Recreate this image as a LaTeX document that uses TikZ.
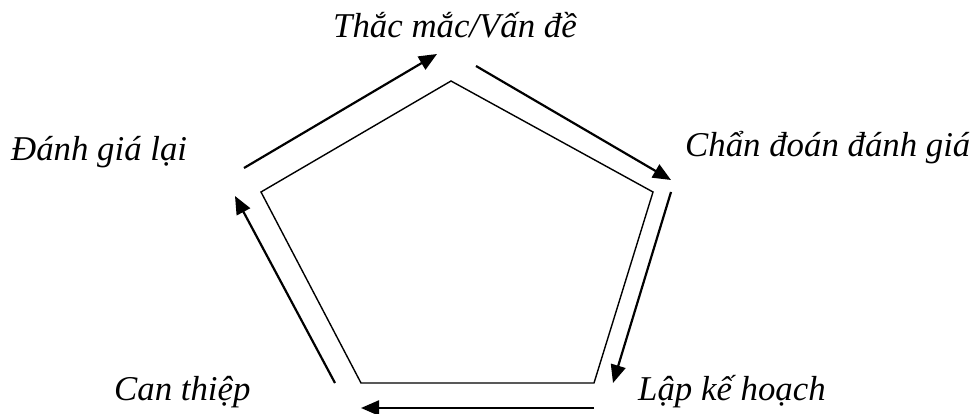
\documentclass[tikz,border=0pt]{standalone}
\usepackage{fontspec}
\setmainfont{Liberation Serif}
\usetikzlibrary{arrows.meta}
\begin{document}
\begin{tikzpicture}[x=1pt,y=1pt,
  poly/.style={line width=1.4pt,line join=miter},
  flow/.style={line width=2.2pt,-{Triangle[length=18pt,width=15pt]}},
  lbl/.style={font=\fontsize{34.8}{40}\selectfont\itshape,inner sep=0pt,anchor=base west}]
\useasboundingbox (0,0) rectangle (971,-414);
% pentagon vertices
\coordinate (pT) at (451,-81);
\coordinate (pR) at (653,-192);
\coordinate (pBR) at (594,-383);
\coordinate (pBL) at (361,-383);
\coordinate (pL) at (261,-192);
\draw[poly] (pT) -- (pR) -- (pBR) -- (pBL) -- (pL) -- cycle;
% arrow ends
\coordinate (a1s) at (244,-168); \coordinate (a1e) at (437,-54);
\coordinate (a2s) at (476,-66);  \coordinate (a2e) at (671,-180);
\coordinate (a3s) at (671,-192); \coordinate (a3e) at (613,-383);
\coordinate (a4s) at (594,-408); \coordinate (a4e) at (361,-408);
\coordinate (a5s) at (335,-383); \coordinate (a5e) at (235,-196);
\draw[flow] (a1s) -- (a1e);
\draw[flow] (a2s) -- (a2e);
\draw[flow] (a3s) -- (a3e);
\draw[flow] (a4s) -- (a4e);
\draw[flow] (a5s) -- (a5e);
% labels
\node[lbl] (top) at (333,-37.5) {Thắc mắc/Vấn đề};
\node[lbl] (cd) at (685,-157) {Chẩn đoán đánh giá};
\node[lbl] (dg) at (11,-161) {Đánh giá lại};
\node[lbl] (ct) at (114,-400) {Can thiệp};
\node[lbl] (lk) at (638,-400) {Lập kế hoạch};
\end{tikzpicture}
\end{document}
